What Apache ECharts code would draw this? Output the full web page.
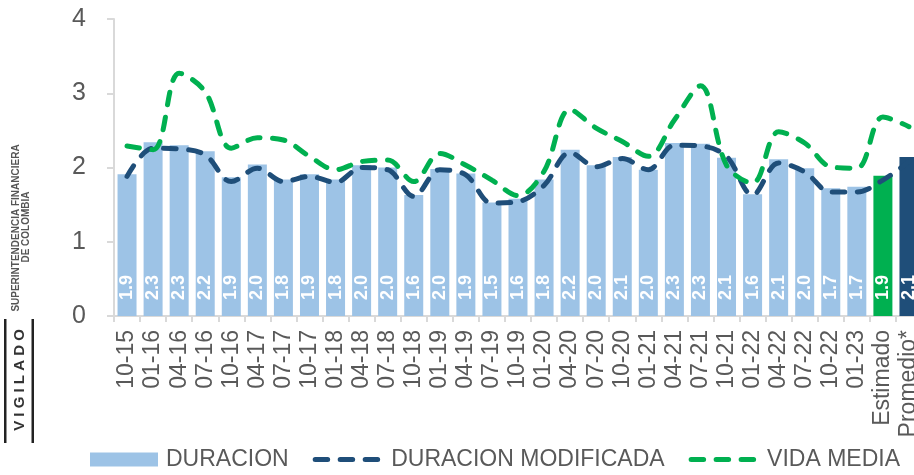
<!DOCTYPE html>
<html>
<head>
<meta charset="utf-8">
<script src="https://cdn.jsdelivr.net/npm/echarts@6/dist/echarts.min.js"></script>
<style>
  html, body { margin: 0; padding: 0; background: #fff; }
  #chart { width: 914px; height: 475px; }
</style>
</head>
<body>
<div id="chart"></div>
<script>
// categorias (trimestres) y valores
var categories = ['10-15','01-16','04-16','07-16','10-16','04-17','07-17','10-17','01-18','04-18',
  '07-18','10-18','01-19','04-19','07-19','10-19','01-20','04-20','07-20','10-20',
  '01-21','04-21','07-21','10-21','01-22','04-22','07-22','10-22','01-23','Estimado','Promedio*'];

var duracion = [1.91,2.34,2.30,2.22,1.87,2.04,1.84,1.91,1.84,2.03,
  2.00,1.63,1.98,1.92,1.53,1.58,1.84,2.24,2.03,2.14,
  1.97,2.33,2.32,2.13,1.64,2.11,1.99,1.72,1.74,1.89,2.14];

var duracionModificada = [1.88,2.26,2.25,2.17,1.81,1.99,1.81,1.88,1.80,2.00,
  1.97,1.61,1.97,1.90,1.52,1.54,1.76,2.20,2.01,2.12,
  1.97,2.30,2.29,2.15,1.63,2.06,1.94,1.67,1.67,1.83,2.08];

var vidaMedia = [2.29,2.24,3.27,3.02,2.26,2.40,2.37,2.15,1.97,2.08,
  2.10,1.81,2.19,2.03,1.83,1.62,1.95,2.78,2.53,2.35,
  2.15,2.64,3.10,2.03,1.79,2.48,2.33,2.01,1.99,2.68,2.55];

var yTicks = [0, 1, 2, 3, 4];

var azulClaro = '#9DC3E6', azul = '#1F4E79', verde = '#00B050', gris = '#595959';
var fuente = 'Liberation Sans, Arial, sans-serif';
var guion = [12.5, 12.5];

// colores especiales para Estimado y Promedio
var barData = duracion.map(function (v, i) {
  var c = azulClaro;
  if (categories[i] === 'Estimado') c = verde;
  if (categories[i] === 'Promedio*') c = azul;
  return { value: v, itemStyle: { color: c } };
});

var myChart = echarts.init(document.getElementById('chart'));

var sinSimbolo = { color: 'rgba(0,0,0,0)', borderWidth: 0, opacity: 0 };

var option = {
  animation: false,
  textStyle: { fontFamily: fuente },
  grid: { left: 114, top: 19, width: 808, height: 297, outerBoundsMode: 'none', containLabel: false },
  legend: {
    left: 85,
    top: 443,
    itemWidth: 68,
    itemHeight: 14,
    itemGap: 24,
    textStyle: { fontSize: 23, color: gris, fontFamily: fuente, padding: [0, 0, 0, 3] },
    data: [
      { name: 'DURACION', icon: 'rect' },
      { name: 'DURACION MODIFICADA', itemStyle: sinSimbolo,
        lineStyle: { color: azul, width: 5, type: guion, cap: 'round' } },
      { name: 'VIDA MEDIA', itemStyle: sinSimbolo,
        lineStyle: { color: verde, width: 5, type: guion, cap: 'round' } }
    ]
  },
  xAxis: {
    type: 'category',
    data: categories,
    axisLine: { lineStyle: { color: '#D9D9D9', width: 2 } },
    axisTick: { show: true, length: 6, lineStyle: { color: '#D9D9D9', width: 2 } },
    axisLabel: {
      rotate: 90,
      interval: 0,
      margin: 14,
      fontSize: 23,
      color: gris,
      fontFamily: fuente
    }
  },
  yAxis: {
    type: 'value',
    min: 0,
    max: 4,
    interval: 1,
    splitLine: { show: false },
    axisLine: { show: true, lineStyle: { color: '#D9D9D9', width: 2 } },
    axisTick: { show: true, length: 7, lineStyle: { color: '#D9D9D9', width: 2 } },
    axisLabel: {
      fontSize: 25,
      color: gris,
      margin: 28,
      fontFamily: fuente,
      formatter: function (v) { return yTicks.indexOf(v) >= 0 ? String(v) : ''; }
    }
  },
  series: [
    {
      name: 'DURACION',
      type: 'bar',
      data: barData,
      barWidth: 19,
      itemStyle: { color: azulClaro },
      label: {
        show: true,
        position: 'insideBottom',
        distance: 16,
        rotate: 90,
        align: 'left',
        verticalAlign: 'middle',
        color: '#fff',
        fontSize: 18,
        fontWeight: 'bold',
        fontFamily: fuente,
        formatter: function (p) { return p.value.toFixed(1); }
      }
    },
    {
      name: 'DURACION MODIFICADA',
      type: 'line',
      data: duracionModificada,
      smooth: 0.35,
      symbol: 'none',
      itemStyle: { color: azul },
      lineStyle: { color: azul, width: 5, type: guion, cap: 'round' }
    },
    {
      name: 'VIDA MEDIA',
      type: 'line',
      data: vidaMedia,
      smooth: 0.35,
      symbol: 'none',
      itemStyle: { color: verde },
      lineStyle: { color: verde, width: 5, type: guion, cap: 'round' }
    }
  ],
  graphic: [
    { type: 'rect', left: 4, top: 319, shape: { width: 2.5, height: 124 }, style: { fill: '#222' } },
    { type: 'rect', left: 31.5, top: 319, shape: { width: 2.5, height: 124 }, style: { fill: '#222' } },
    {
      type: 'text', x: 20, y: 380, rotation: Math.PI / 2,
      style: { text: 'V I G I L A D O', font: 'bold 15px ' + fuente, fill: '#333', align: 'center', verticalAlign: 'middle' }
    },
    {
      type: 'text', x: 16, y: 228, rotation: Math.PI / 2,
      style: { text: 'SUPERINTENDENCIA FINANCIERA', font: 'bold 10px ' + fuente, fill: '#555', align: 'center', verticalAlign: 'middle' }
    },
    {
      type: 'text', x: 26.5, y: 227, rotation: Math.PI / 2,
      style: { text: 'DE COLOMBIA', font: 'bold 10px ' + fuente, fill: '#555', align: 'center', verticalAlign: 'middle' }
    }
  ]
};

myChart.setOption(option);
</script>
</body>
</html>
